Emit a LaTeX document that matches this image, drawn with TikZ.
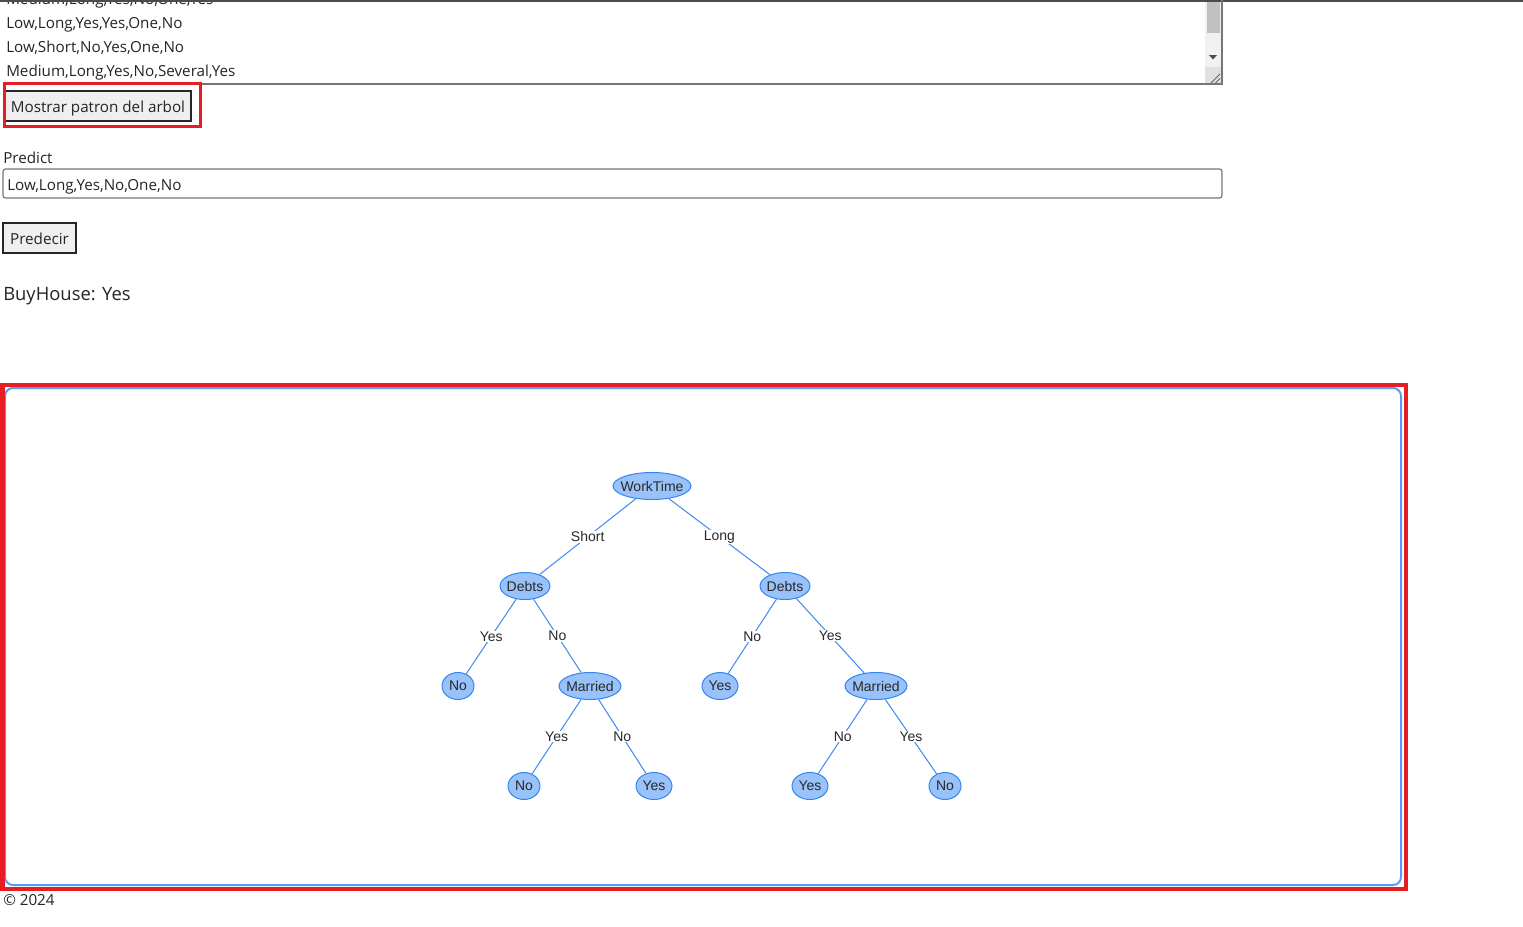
\documentclass[tikz,border=0pt]{standalone}
\usepackage{fontspec}
\setmainfont{Open Sans}
\newfontfamily\treefont{Liberation Sans}
\usetikzlibrary{shapes.geometric}

\definecolor{pagetext}{RGB}{33,37,41}
\definecolor{hired}{RGB}{230,30,35}
\definecolor{boxblue}{RGB}{90,156,240}
\definecolor{nodefill}{RGB}{153,194,250}
\definecolor{nodeline}{RGB}{51,133,240}
\definecolor{edgeblue}{RGB}{70,142,240}
\definecolor{treetext}{RGB}{40,40,40}
\definecolor{fieldline}{RGB}{118,118,118}
\definecolor{btnfill}{RGB}{239,239,239}
\definecolor{thumbgray}{RGB}{193,193,193}
\definecolor{trackgray}{RGB}{241,241,241}

\newcommand{\ntext}[1]{\makebox[0pt]{#1}}

\tikzset{
  treenode/.style={ellipse, draw=nodeline, fill=nodefill, line width=0.75pt,
    inner sep=0pt, minimum width=#1*0.75pt, minimum height=20.25pt,
    font=\treefont\fontsize{10.5}{12}\selectfont, text=treetext},
  branch/.style={fill=white, inner sep=0.6pt,
    font=\treefont\fontsize{10.5}{12}\selectfont, text=treetext},
  treeedge/.style={draw=edgeblue, line width=0.8pt},
  pagetxt/.style={anchor=base west, inner sep=0pt, text=pagetext,
    font=\fontsize{11.4}{13}\selectfont},
  button/.style={draw=black!85, fill=btnfill, line width=1.5pt, inner sep=0pt,
    text height=1.0em, text depth=0.1em, text=pagetext,
    font=\fontsize{11.4}{13}\selectfont},
  highlight/.style={draw=hired, line width=2.6pt}
}

\begin{document}
\begin{tikzpicture}[x=0.75pt, y=-0.75pt]
  \useasboundingbox (0,0) rectangle (1523,926);

  % textarea with the training rows
  \begin{scope}
    \clip (3,1) rectangle (1205,84);
    \node[pagetxt] (row0) at (6,4) {Medium,Long,Yes,No,One,Yes};
    \node[pagetxt] (row1) at (6,28) {Low,Long,Yes,Yes,One,No};
    \node[pagetxt] (row2) at (6,52) {Low,Short,No,Yes,One,No};
    \node[pagetxt] (row3) at (6,76) {Medium,Long,Yes,No,Several,Yes};
  \end{scope}
  \fill[trackgray] (1205,1) rectangle (1221,83.5);
  \fill[thumbgray] (1207,1) rectangle (1220,33);
  \fill[black!70] (1209,55) -- (1217,55) -- (1213,59.5) -- cycle;
  \fill[black!12] (1205,67) rectangle (1221,83.5);
  \draw[black!60, line width=0.6pt] (1211,83) -- (1220,74);
  \draw[black!60, line width=0.6pt] (1215.5,83) -- (1220,78.5);
  \draw[black!70, line width=1.5pt] (0,0.5) -- (1523,0.5);
  \draw[fieldline, line width=0.9pt] (3,84) -- (1222,84) -- (1222,0);

  % show tree button
  \node[button, minimum width=139.5pt, minimum height=22.5pt] (btnshow) at (98,106)
    {Mostrar patron del arbol};
  \draw[highlight] (4.5,83.5) rectangle (200.5,126.5);

  % prediction input
  \node[pagetxt] (predictlbl) at (3,163) {Predict};
  \draw[fieldline, line width=0.9pt, rounded corners=2pt] (3,169) rectangle (1222,198);
  \node[pagetxt] (predictin) at (7,190) {Low,Long,Yes,No,One,No};
  \node[button, minimum width=54.75pt, minimum height=22.5pt] (btnpred) at (39.5,238)
    {Predecir};
  \node[pagetxt, font=\fontsize{13.8}{16}\selectfont] (result) at (3,300.5) {BuyHouse: Yes};

  % tree panel
  \draw[boxblue, line width=1.5pt, rounded corners=6pt] (5,388) rectangle (1401,885);
  \draw[highlight, line width=3pt] (2.5,385) rectangle (1405.5,889);

  \node[treenode=78] (worktime) at (652,486) {\ntext{WorkTime}};
  \node[treenode=50] (debtsl) at (525,586) {\ntext{Debts}};
  \node[treenode=50] (debtsr) at (785,586) {\ntext{Debts}};
  \node[treenode=32] (noa) at (458,686) {\ntext{No}};
  \node[treenode=62] (marl) at (590,686) {\ntext{Married}};
  \node[treenode=36] (yesa) at (720,686) {\ntext{Yes}};
  \node[treenode=62] (marr) at (876,686) {\ntext{Married}};
  \node[treenode=32] (nob) at (524,786) {\ntext{No}};
  \node[treenode=36] (yesb) at (654,786) {\ntext{Yes}};
  \node[treenode=36] (yesc) at (810,786) {\ntext{Yes}};
  \node[treenode=32] (noc) at (945,786) {\ntext{No}};

  \foreach \a/\b/\t in {worktime/debtsl/Short, worktime/debtsr/Long,
      debtsl/noa/Yes, debtsl/marl/No, debtsr/yesa/No, debtsr/marr/Yes,
      marl/nob/Yes, marl/yesb/No, marr/yesc/No, marr/noc/Yes}
    \draw[treeedge] (\a) -- node[branch] {\t} (\b);

  \node[pagetxt] (footer) at (3,905) {© 2024};
\end{tikzpicture}
\end{document}
